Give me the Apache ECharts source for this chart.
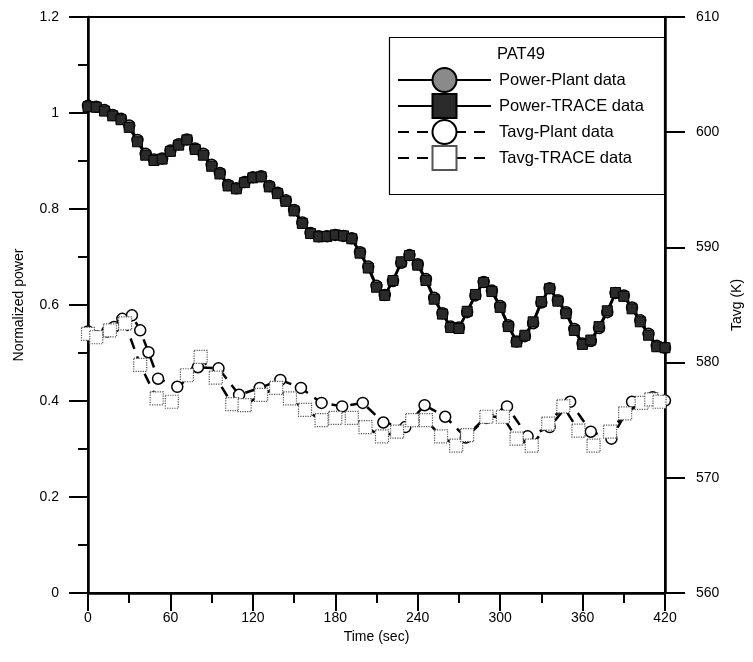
<!DOCTYPE html>
<html><head><meta charset="utf-8">
<script src="https://cdn.jsdelivr.net/npm/echarts@6/dist/echarts.min.js"></script>
<style>html,body{margin:0;padding:0;background:#fff}#c{width:753px;height:662px}</style>
</head><body><div id="c"></div>
<script>
// ---- data ----
const powerTime = [0,6,12,18,24,30,36,42,48,54,60,66,72,78,84,90,96,102,108,114,120,126,132,138,144,150,156,162,168,174,180,186,192,198,204,210,216,222,228,234,240,246,252,258,264,270,276,282,288,294,300,306,312,318,324,330,336,342,348,354,360,366,372,378,384,390,396,402,408,414,420];
const powerPlant = [1.015,1.013,1.006,0.996,0.988,0.974,0.944,0.915,0.903,0.905,0.922,0.935,0.945,0.926,0.915,0.892,0.875,0.850,0.843,0.856,0.866,0.868,0.848,0.834,0.818,0.798,0.772,0.750,0.743,0.743,0.746,0.744,0.739,0.710,0.680,0.640,0.621,0.650,0.688,0.704,0.685,0.654,0.615,0.583,0.555,0.553,0.585,0.620,0.648,0.630,0.598,0.558,0.524,0.535,0.562,0.605,0.635,0.610,0.585,0.550,0.520,0.525,0.552,0.585,0.625,0.620,0.595,0.568,0.540,0.515,0.511];
const powerTrace = [1.013,1.012,1.004,0.994,0.986,0.970,0.940,0.912,0.901,0.904,0.920,0.933,0.944,0.924,0.912,0.889,0.873,0.848,0.842,0.855,0.865,0.867,0.846,0.832,0.816,0.796,0.770,0.749,0.742,0.743,0.746,0.744,0.738,0.708,0.677,0.637,0.620,0.651,0.690,0.703,0.683,0.651,0.612,0.581,0.553,0.551,0.587,0.622,0.647,0.628,0.595,0.555,0.523,0.537,0.565,0.607,0.634,0.608,0.582,0.547,0.518,0.527,0.555,0.588,0.626,0.618,0.592,0.565,0.537,0.513,0.511];
const tavgPlantTime = [0,14,19,25,32,38,44,51,65,80,95,110,125,140,155,170,185,200,215,231,245,260,275,290,305,320,336,351,366,381,396,411,420];
const tavgPlant = [582.7,582.7,583.1,583.8,584.1,582.8,580.9,578.6,577.9,579.6,579.5,577.2,577.8,578.5,577.8,576.5,576.2,576.5,574.8,574.4,576.3,575.3,573.5,575.2,576.2,573.6,574.4,576.6,574.0,573.4,576.6,577.0,576.7];
const tavgTraceTime = [0,6,16,27,38,50,61,72,82,93,105,114,126,137,147,158,170,180,192,202,214,225,236,246,257,268,276,290,302,312,323,335,346,357,368,380,391,403,410,416];
const tavgTrace = [582.5,582.2,582.8,583.4,579.8,576.9,576.6,578.9,580.5,578.7,576.4,576.3,577.2,577.8,576.9,575.9,575.0,575.2,575.2,574.4,573.6,574.0,575.0,575.0,573.6,572.8,573.7,575.3,575.3,573.4,572.8,574.7,576.2,574.1,572.8,574.0,575.6,576.5,576.8,576.6];
const xTicks = {min:0, max:420, interval:60};
const yLeft = {min:0, max:1.2, interval:0.2};
const yRight = {min:560, max:610, interval:10};
const legendTitle = 'PAT49';
const names = ['Power-Plant data','Power-TRACE data','Tavg-Plant data','Tavg-TRACE data'];

const zip = (a,b)=>a.map((v,i)=>[v,b[i]]);
const chart = echarts.init(document.getElementById('c'));
const F = 'Liberation Sans, Arial, sans-serif';
const FN = 'Liberation Sans Narrow, Arial Narrow, Liberation Sans, sans-serif';
const axisLine = {show:true, onZero:false, lineStyle:{color:'#000', width:2.5}};
chart.setOption({
  animation:false,
  backgroundColor:'#fff',
  grid:{left:88, right:88, top:17, bottom:69, show:true, borderColor:'#000', borderWidth:2},
  legend:{
    orient:'vertical', left:397, top:67, padding:0, itemGap:0,
    itemWidth:93, itemHeight:30,
    textStyle:{fontFamily:F, fontSize:16.5, color:'#000', padding:[0,0,0,3]},
    data:names
  },
  graphic:[
    {type:'rect', left:387, top:35, shape:{width:275, height:157}, style:{fill:'none', stroke:'#000', lineWidth:1.2}, z:0},
    {type:'text', left:497, top:46, style:{text:legendTitle, font:'16.5px '+F, fill:'#000'}}
  ],
  xAxis:{
    type:'value', min:xTicks.min, max:xTicks.max, interval:xTicks.interval,
    axisLine, splitLine:{show:false},
    axisTick:{show:true, inside:false, length:18, lineStyle:{width:2, color:'#000'}},
    minorTick:{show:true, splitNumber:2, length:10, lineStyle:{width:2, color:'#000'}},
    axisLabel:{margin:18, color:'#000', fontFamily:FN, fontSize:14},
    name:'Time (sec)', nameLocation:'middle', nameGap:36,
    nameTextStyle:{fontFamily:FN, fontSize:14, color:'#000'}
  },
  yAxis:[{
    type:'value', position:'left', min:yLeft.min, max:yLeft.max, interval:yLeft.interval,
    axisLine, splitLine:{show:false},
    axisTick:{show:true, inside:false, length:19, lineStyle:{width:2, color:'#000'}},
    minorTick:{show:true, splitNumber:2, length:10, lineStyle:{width:2, color:'#000'}},
    axisLabel:{margin:29, color:'#000', fontFamily:F, fontSize:14},
    name:'Normalized power', nameLocation:'middle', nameRotate:90, nameGap:62,
    nameTextStyle:{fontFamily:F, fontSize:14, color:'#000'}
  },{
    type:'value', position:'right', min:yRight.min, max:yRight.max, interval:yRight.interval,
    axisLine, splitLine:{show:false},
    axisTick:{show:true, inside:false, length:20, lineStyle:{width:2, color:'#000'}},
    axisLabel:{margin:31, color:'#000', fontFamily:F, fontSize:14},
    name:'Tavg (K)', nameLocation:'middle', nameRotate:90, nameGap:62,
    nameTextStyle:{fontFamily:F, fontSize:14, color:'#000'}
  }],
  series:[
    {name:names[0], type:'line', yAxisIndex:0, data:zip(powerTime,powerPlant),
     symbol:'circle', symbolSize:11, showAllSymbol:true,
     lineStyle:{color:'#000', width:2.5},
     itemStyle:{color:'#8a8a8a', borderColor:'#000', borderWidth:1.5}},
    {name:names[1], type:'line', yAxisIndex:0, data:zip(powerTime,powerTrace),
     symbol:'rect', symbolSize:10, showAllSymbol:true,
     lineStyle:{color:'#000', width:2.5},
     itemStyle:{color:'#2a2a2a', borderColor:'#000', borderWidth:1}},
    {name:names[2], type:'line', yAxisIndex:1, data:zip(tavgPlantTime,tavgPlant),
     symbol:'circle', symbolSize:11, showAllSymbol:true,
     lineStyle:{color:'#000', width:2.5, type:[11,8]},
     itemStyle:{color:'#fff', borderColor:'#000', borderWidth:1.5}},
    {name:names[3], type:'line', yAxisIndex:1, data:zip(tavgTraceTime,tavgTrace),
     symbol:'rect', symbolSize:13, showAllSymbol:true,
     lineStyle:{color:'#000', width:2.5, type:[11,8]},
     itemStyle:{color:'#fff', borderColor:'#555', borderWidth:1.2, borderType:'dotted'}}
  ]
});
</script></body></html>
